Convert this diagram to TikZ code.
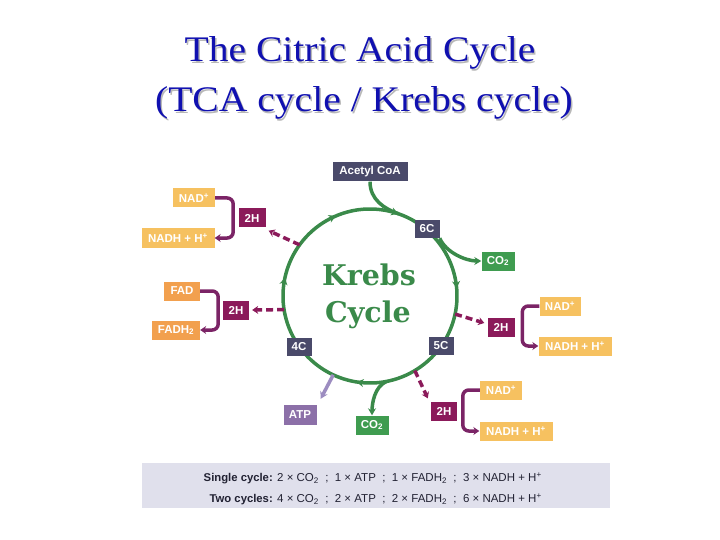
\documentclass[tikz,border=0pt]{standalone}
\usepackage{fontspec}
\setmainfont{Liberation Sans}
\newfontfamily\titlefont[FakeStretch=1.1]{Liberation Serif}
\newfontfamily\krebsfont{DejaVu Serif}
\usetikzlibrary{arrows.meta,decorations.markings}
\definecolor{slate}{HTML}{4A4A6A}
\definecolor{cgreen}{HTML}{3A8A4A}
\definecolor{boxgreen}{HTML}{3F9C50}
\definecolor{maroon}{HTML}{8B1A5A}
\definecolor{bracketc}{HTML}{7B2466}
\definecolor{nadc}{HTML}{F6C160}
\definecolor{fadc}{HTML}{F2A04E}
\definecolor{atpc}{HTML}{8C70A8}
\definecolor{atparr}{HTML}{9C8CC0}
\definecolor{sumbg}{HTML}{E0E0EC}
\definecolor{sumtext}{HTML}{222233}
\definecolor{titleblue}{HTML}{1010B0}
\begin{document}
\begin{tikzpicture}[x=1pt,y=1pt,
  box/.style={font=\bfseries\fontsize{11.5}{13}\selectfont, text=white, minimum height=19pt, inner sep=0pt},
  cycline/.style={draw=cgreen, line width=3.5pt},
  tip/.style={-{Stealth[length=7pt,width=8pt]}},
  bracket/.style={draw=bracketc, line width=3.5pt, rounded corners=6pt, -{Stealth[length=6pt,width=8pt]}},
  dasharrow/.style={draw=maroon, line width=3.5pt, dash pattern=on 7pt off 4pt, -{Stealth[length=6pt,width=8pt]}},
  titletext/.style={font=\titlefont\fontsize{36}{40}\selectfont},
  sumfont/.style={font=\fontsize{11.5}{13}\selectfont, text=sumtext, inner sep=0pt},
  sumbold/.style={font=\bfseries\fontsize{11.3}{13}\selectfont, text=sumtext, inner sep=0pt}
]
\useasboundingbox (0,0) rectangle (720,-540);

% title
\node[titletext, text=black!28, anchor=base] (t1s) at (361.5,-63.5) {The Citric Acid Cycle};
\node[titletext, text=titleblue, anchor=base] (t1) at (360,-62) {The Citric Acid Cycle};
\node[titletext, text=black!28, anchor=base] (t2s) at (365.5,-113.5) {(TCA cycle / Krebs cycle)};
\node[titletext, text=titleblue, anchor=base] (t2) at (364,-112) {(TCA cycle / Krebs cycle)};

% cycle
\coordinate (cc) at (370,-296);
\draw[cycline, postaction={decorate}, decoration={markings,
    mark=at position 0.019 with {\arrow[cgreen]{Stealth[length=7pt,width=8pt]}},
    mark=at position 0.136 with {\arrow[cgreen]{Stealth[length=7pt,width=8pt]}},
    mark=at position 0.319 with {\arrow[cgreen]{Stealth[length=7pt,width=8pt]}},
    mark=at position 0.608 with {\arrow[cgreen]{Stealth[length=7pt,width=8pt]}},
    mark=at position 0.867 with {\arrow[cgreen]{Stealth[length=7pt,width=8pt]}}}]
  ([shift={(120:87)}]cc) arc[start angle=120, end angle=-240, radius=87];

\node[font=\krebsfont\bfseries\fontsize{28.5}{34}\selectfont, text=cgreen, anchor=base] (kr1) at (369,-285) {Krebs};
\node[font=\krebsfont\bfseries\fontsize{28.5}{34}\selectfont, text=cgreen, anchor=base] (kr2) at (368,-322) {Cycle};

% nodes
\node[box, fill=slate, minimum width=75] (acoa) at (370,-172) {Acetyl CoA};
\node[box, fill=slate, minimum width=25, minimum height=18] (c6) at (427,-229) {6C};
\node[box, fill=slate, minimum width=25, minimum height=18] (c5) at (441,-346) {5C};
\node[box, fill=slate, minimum width=25, minimum height=18] (c4) at (299,-347) {4C};
\node[box, fill=boxgreen, minimum width=33] (co2a) at (498,-261) {CO\textsubscript{2}};
\node[box, fill=boxgreen, minimum width=33] (co2b) at (372,-425) {CO\textsubscript{2}};
\node[box, fill=atpc, minimum width=33, minimum height=20] (atp) at (300,-415) {ATP};
\node[box, fill=maroon, minimum width=27] (h2a) at (252,-218) {2H};
\node[box, fill=maroon, minimum width=26] (h2b) at (236,-310) {2H};
\node[box, fill=maroon, minimum width=27] (h2c) at (501,-327) {2H};
\node[box, fill=maroon, minimum width=26] (h2d) at (444,-411) {2H};
\node[box, fill=nadc, minimum width=42] (nad1) at (194,-198) {NAD\textsuperscript{+}};
\node[box, fill=nadc, minimum width=73] (nadh1) at (178,-238) {NADH + H\textsuperscript{+}};
\node[box, fill=fadc, minimum width=36] (fad) at (182,-291) {FAD};
\node[box, fill=fadc, minimum width=48] (fadh) at (176,-330) {FADH\textsubscript{2}};
\node[box, fill=nadc, minimum width=41] (nad2) at (560,-306) {NAD\textsuperscript{+}};
\node[box, fill=nadc, minimum width=73] (nadh2) at (575,-346) {NADH + H\textsuperscript{+}};
\node[box, fill=nadc, minimum width=42] (nad3) at (501,-390) {NAD\textsuperscript{+}};
\node[box, fill=nadc, minimum width=73] (nadh3) at (516,-431) {NADH + H\textsuperscript{+}};

% green connectors
\draw[cycline] (acoa.south) .. controls +(0,-18) and +(-14,5) .. ([shift={(71:87)}]cc);
\draw[cycline, tip] (c6.south east) .. controls +(6,-14) and +(-16,0) .. (co2a.west);
\draw[cycline, tip] ([shift={(-79:87)}]cc) .. controls +(-12,-5) and +(0,12) .. (co2b.north);
\draw[draw=atparr, line width=3.5pt, tip] ([shift={(-115:87)}]cc) -- ([shift={(4,6)}]atp.north east);

% dashed 2H arrows
\draw[dasharrow] ([shift={(144:87)}]cc) -- ([shift={(3,-3)}]h2a.south east);
\draw[dasharrow] ([shift={(189:87)}]cc) -- ([shift={(3,0)}]h2b.east);
\draw[dasharrow] ([shift={(-12:87)}]cc) -- ([shift={(-3,4)}]h2c.west);
\draw[dasharrow] ([shift={(-59:87)}]cc) -- ([shift={(-3,3)}]h2d.north west);

% brackets
\draw[bracket] (nad1.east) -- ++(18,0) |- (nadh1.east);
\draw[bracket] (fad.east) -- ++(18,0) |- (fadh.east);
\draw[bracket] (nad2.west) -- ++(-17,0) |- (nadh2.west);
\draw[bracket] (nad3.west) -- ++(-17,0) |- (nadh3.west);

% summary
\node[fill=sumbg, minimum width=468, minimum height=45, inner sep=0pt] (sum) at (376,-485.5) {};
\node[sumbold, anchor=base east] (s1) at (273,-481.5) {Single cycle:};
\node[sumfont, anchor=base west] (s1b) at (277,-481.5) {2 × CO\textsubscript{2} \ ; \ 1 × ATP \ ; \ 1 × FADH\textsubscript{2} \ ; \ 3 × NADH + H\textsuperscript{+}};
\node[sumbold, anchor=base east] (s2) at (273,-502.5) {Two cycles:};
\node[sumfont, anchor=base west] (s2b) at (277,-502.5) {4 × CO\textsubscript{2} \ ; \ 2 × ATP \ ; \ 2 × FADH\textsubscript{2} \ ; \ 6 × NADH + H\textsuperscript{+}};
\end{tikzpicture}
\end{document}
